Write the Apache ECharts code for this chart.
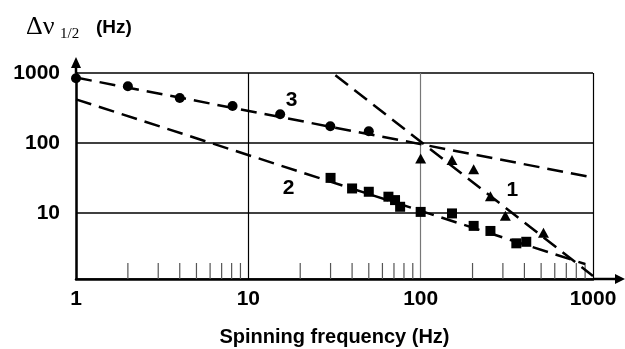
<!DOCTYPE html>
<html>
<head>
<meta charset="utf-8">
<script src="https://cdn.jsdelivr.net/npm/echarts@6/dist/echarts.min.js"></script>
<style>html,body{margin:0;padding:0;background:#fff}#c{width:625px;height:349px}</style>
</head>
<body>
<div id="c"></div>
<script>
// Curve 1 (triangles)
const triX = [100, 152, 203, 254, 310, 516];
const triY = [60, 57, 42, 17.3, 9.1, 5.2];
const fit1X = [32, 1000];
const fit1Y = [930, 1.25];
// Curve 2 (squares)
const sqX = [30, 40, 50, 65, 71, 76, 100, 152, 203, 254, 359, 410];
const sqY = [31.6, 22.3, 20, 17, 15.2, 12.2, 10.3, 9.8, 6.5, 5.5, 3.66, 3.85];
const fit2X = [1, 900];
const fit2Y = [420, 1.85];
// Curve 3 (circles)
const cirX = [1, 2, 4, 8.1, 15.3, 29.9, 50];
const cirY = [840, 646, 440, 338, 257, 173, 147];
const fit3X = [1, 1000];
const fit3Y = [860, 32];
// curve number labels
const curveLabels = ['1', '2', '3'];
const curveLabelX = [340, 17.1, 17.8];
const curveLabelY = [21, 22.5, 408];
// axis ticks
const xTickLabels = ['1', '10', '100', '1000'];
const yTickLabels = ['10', '100', '1000'];
const xMinorTicks = [2,3,4,5,6,7,8,9,20,30,40,50,60,70,80,90,200,300,400,500,600,700,800,900];
const yMin = 1.13;

const zip = (a, b) => a.map((v, i) => [v, b[i]]);
const boldFont = 'Liberation Sans';
const dash = {color: '#000', width: 2.5, type: [16, 8]};
const mark = {color: '#000', opacity: 1};

const chart = echarts.init(document.getElementById('c'), null, {renderer: 'canvas'});
const option = {
  animation: false,
  backgroundColor: '#fff',
  grid: {left: 76, right: 32, top: 73, bottom: 70, outerBoundsMode: 'none', containLabel: false},
  xAxis: {
    type: 'log', logBase: 10, min: 1, max: 1000,
    axisLine: {lineStyle: {color: '#000', width: 2.5}},
    axisTick: {show: false},
    axisLabel: {
      color: '#000', fontFamily: boldFont, fontWeight: 'bold', fontSize: 21, margin: 10,
      formatter: v => { const s = String(Math.round(v)); return xTickLabels.includes(s) ? s : ''; }
    },
    splitLine: {show: true, lineStyle: {color: ['#000', '#000', '#777', '#000'], width: 1.2}},
    name: 'Spinning frequency (Hz)', nameLocation: 'middle', nameGap: 48,
    nameTextStyle: {color: '#000', fontFamily: boldFont, fontWeight: 'bold', fontSize: 20}
  },
  yAxis: {
    type: 'log', logBase: 10, min: yMin, max: 1000,
    axisLine: {lineStyle: {color: '#000', width: 2.5}},
    axisTick: {show: false},
    axisLabel: {
      color: '#000', fontFamily: boldFont, fontWeight: 'bold', fontSize: 21, margin: 16,
      formatter: v => { const s = String(Math.round(v)); return yTickLabels.includes(s) ? s : ''; }
    },
    splitLine: {show: true, lineStyle: {color: '#000', width: 1.5}}
  },
  series: [
    {type: 'custom', data: xMinorTicks.map(v => [v, yMin]), silent: true,
      renderItem: (params, api) => {
        const p = api.coord([api.value(0), api.value(1)]);
        return {type: 'line', shape: {x1: p[0], y1: p[1], x2: p[0], y2: p[1] - 16},
          style: {stroke: '#555', lineWidth: 1.2}};
      }},
    {type: 'line', data: zip(fit3X, fit3Y), symbol: 'none', lineStyle: dash, z: 3},
    {type: 'line', data: zip(fit2X, fit2Y), symbol: 'none', lineStyle: dash, z: 3},
    {type: 'line', data: zip(fit1X, fit1Y), symbol: 'none', lineStyle: dash, z: 3},
    {type: 'scatter', data: zip(cirX, cirY), symbol: 'circle', symbolSize: 10, itemStyle: mark, z: 4},
    {type: 'scatter', data: zip(sqX, sqY), symbol: 'rect', symbolSize: 10, itemStyle: mark, z: 4},
    {type: 'scatter', data: zip(triX, triY), symbol: 'triangle', symbolSize: [11, 10], itemStyle: mark, z: 4},
    {type: 'scatter', data: curveLabelX.map((x, i) => ({value: [x, curveLabelY[i]], name: curveLabels[i]})),
      symbolSize: 0, z: 5, itemStyle: mark,
      label: {show: true, position: 'inside', formatter: p => p.name, color: '#000',
        fontFamily: boldFont, fontWeight: 'bold', fontSize: 21}}
  ]
};
chart.setOption(option);

const tl = chart.convertToPixel({gridIndex: 0}, [1, 1000]);
const br = chart.convertToPixel({gridIndex: 0}, [1000, yMin]);
chart.setOption({
  graphic: [
    {type: 'line', shape: {x1: tl[0], y1: tl[1], x2: tl[0], y2: tl[1] - 10}, style: {stroke: '#000', lineWidth: 2.5}, z: 10},
    {type: 'polygon', shape: {points: [[tl[0], tl[1] - 16], [tl[0] - 5, tl[1] - 5], [tl[0] + 5, tl[1] - 5]]}, style: {fill: '#000'}, z: 10},
    {type: 'line', shape: {x1: br[0], y1: br[1], x2: br[0] + 24, y2: br[1]}, style: {stroke: '#000', lineWidth: 2.5}, z: 10},
    {type: 'polygon', shape: {points: [[br[0] + 32, br[1]], [br[0] + 22, br[1] - 5], [br[0] + 22, br[1] + 5]]}, style: {fill: '#000'}, z: 10},
    {type: 'text', style: {text: 'Δν', x: 26, y: 27, verticalAlign: 'middle', font: '26px "Liberation Serif"', fill: '#000'}},
    {type: 'text', style: {text: '1/2', x: 60, y: 34, verticalAlign: 'middle', font: '15px "Liberation Serif"', fill: '#000'}},
    {type: 'text', style: {text: '(Hz)', x: 96, y: 28, verticalAlign: 'middle', font: 'bold 19px "Liberation Sans"', fill: '#000'}}
  ]
});
</script>
</body>
</html>
